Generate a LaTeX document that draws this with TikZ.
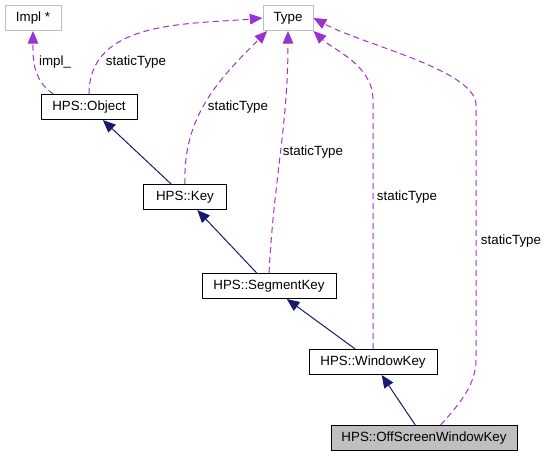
\documentclass[tikz,border=0pt]{standalone}
\usepackage{fontspec}
\setmainfont{Liberation Sans}
\usetikzlibrary{arrows.meta}
\definecolor{usespurple}{RGB}{154,50,205}
\definecolor{basenavy}{RGB}{25,25,112}
\definecolor{boxgrey}{RGB}{191,191,191}
\tikzstyle{every node}=[font=\fontsize{10}{12}\selectfont, minimum height=18.75pt, inner sep=0pt]
\tikzset{>={Triangle[length=9.5pt,width=8pt]}}
\tikzset{
  classbox/.style={draw=black, line width=0.75pt},
  extbox/.style={draw=boxgrey, line width=0.75pt},
  uses/.style={->, usespurple, line width=0.75pt, dash pattern=on 4.5pt off 3pt},
  inherits/.style={->, basenavy, line width=0.75pt},
  edgelabel/.style={minimum height=0pt}
}

\begin{document}
\begin{tikzpicture}[x=0.75pt, y=-0.75pt]
\useasboundingbox (0,0) rectangle (547,457);

\node (impl)       [extbox, minimum width=42pt]    at (33,18)   {Impl *};
\node (type)       [extbox, minimum width=37.5pt]  at (288,18)  {Type};
\node (object)     [classbox, minimum width=72pt]  at (89,107)  {HPS::Object};
\node (key)        [classbox, minimum width=62pt]  at (185,197) {HPS::Key};
\node (segmentkey) [classbox, minimum width=100.5pt] at (269,286) {HPS::SegmentKey};
\node (windowkey)  [classbox, minimum width=96pt]  at (373,362) {HPS::WindowKey};
\node (offscreen)  [classbox, fill=boxgrey, minimum width=139.5pt] at (424,438) {HPS::OffScreenWindowKey};

\coordinate (wbend) at (373,100);
\coordinate (olow)  at (476,360);
\coordinate (ohigh) at (476,105);

\draw [inherits] (key)        -- (object);
\draw [inherits] (segmentkey) -- (key);
\draw [inherits] (windowkey)  -- (segmentkey);
\draw [inherits] (offscreen)  -- (windowkey);

\draw [uses] (object.160)   to[out=146,in=-90] (impl.south);
\draw [uses] (object.north) to[out=90,in=185] (type.west);
\draw [uses] (key.north)    to[out=92,in=225] (type.212);
\draw [uses] (segmentkey.north) to[out=87,in=-90] (type.south);
\draw [uses] (windowkey.north) -- (wbend) .. controls +(0,-35) and +(20,19) .. (type.south east);
\draw [uses] (offscreen.38) .. controls +(18,-20) and +(0,25) .. (olow) -- (ohigh)
  .. controls +(0,-35) and +(50,27) .. (type.east);

\node (implname)   [edgelabel] at (55,62)  {impl\_};
\node (objtype)    [edgelabel] at (136,62) {staticType};
\node (keytype)    [edgelabel] at (238,107) {staticType};
\node (segtype)    [edgelabel] at (313,152) {staticType};
\node (wintype)    [edgelabel] at (407,197) {staticType};
\node (offtype)    [edgelabel] at (511,241) {staticType};

\end{tikzpicture}
\end{document}
